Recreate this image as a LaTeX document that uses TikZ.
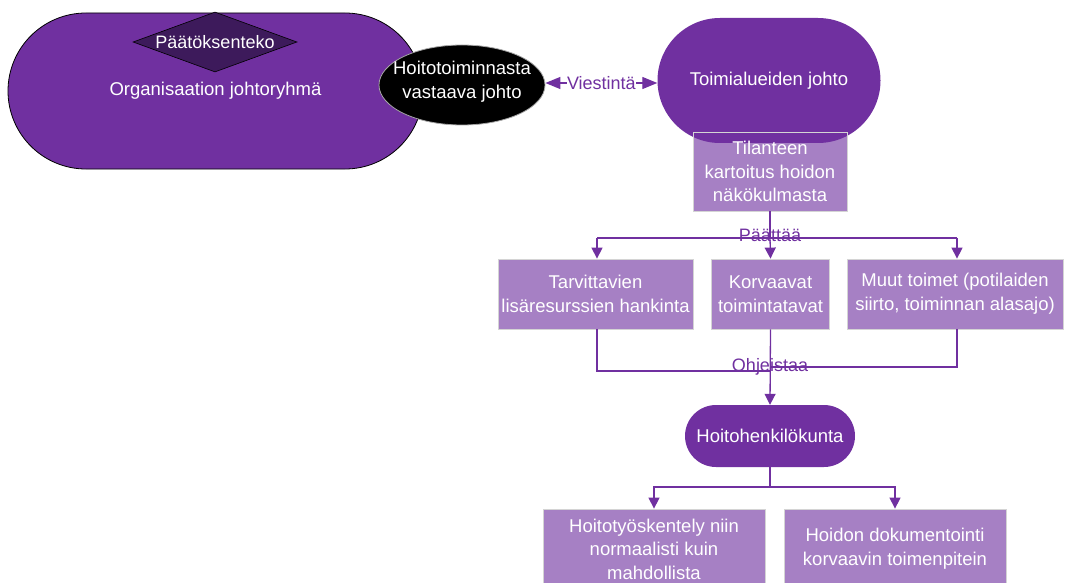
\documentclass[tikz,border=0pt]{standalone}
\usepackage{fontspec}
\setmainfont{Liberation Sans}
\usetikzlibrary{shapes.geometric,shapes.misc,arrows.meta}
\definecolor{ppl}{HTML}{7030A0}
\definecolor{lppl}{HTML}{A680C4}
\definecolor{dppl}{HTML}{3D1A5B}
\definecolor{lgray}{HTML}{D4D4D4}
\pgfdeclarelayer{bg}
\pgfsetlayers{bg,main}
\begin{document}
\begin{tikzpicture}[x=1pt,y=-1pt,
  txt/.style={text=white,font=\fontsize{18.5}{23.6}\selectfont,align=center},
  stadium/.style={rounded rectangle,fill=ppl,txt,inner sep=0pt},
  lbox/.style={rectangle,draw=lgray,line width=0.8pt,txt,inner sep=0pt},
  conn/.style={draw=ppl,line width=1.3pt},
  tip/.style={-{Triangle[width=11pt,length=11pt]}},
  dtip/.style={{Triangle[width=12pt,length=15pt]}-{Triangle[width=12pt,length=15pt]}},
  lbl/.style={text=ppl,font=\fontsize{18}{20}\selectfont,inner sep=1pt}]
\useasboundingbox (0,0) rectangle (1065,583);
\clip (0,0) rectangle (1065,583);

% top left group
\node[stadium,draw=black,line width=0.8pt,minimum width=415pt,minimum height=156pt] (org) at (215.5,91) {Organisaation johtoryhmä};
\node[diamond,draw=black,line width=0.6pt,fill=dppl,inner sep=0pt,
      minimum width=164pt,minimum height=60pt] (paat) at (215,42) {};
\node[txt,font=\fontsize{18}{20}\selectfont] (paatt) at (paat) {Päätöksenteko};
\node[ellipse,draw=gray!70,line width=0.8pt,fill=black,inner sep=0pt,minimum width=166pt,minimum height=80pt] (hvj) at (462,85) {};
\node[txt,font=\fontsize{18.5}{23.5}\selectfont] (hvjt) at (462,81.5) {Hoitotoiminnasta\\vastaava johto};

% right column
\node[stadium,minimum width=223pt,minimum height=125pt] (toim) at (769,80.5) {Toimialueiden johto};
\node[lbox,minimum width=154pt,minimum height=79pt] (til) at (770,171.5) {Tilanteen\\kartoitus hoidon\\näkökulmasta};
\begin{pgfonlayer}{bg}
  \fill[lppl] (til.south west) rectangle (til.north east);
\end{pgfonlayer}

\node[lbox,fill=lppl,minimum width=195pt,minimum height=70pt] (tarv) at (595.5,294) {Tarvittavien\\lisäresurssien hankinta};
\node[lbox,fill=lppl,minimum width=118pt,minimum height=70pt] (korv) at (770.5,294) {Korvaavat\\toimintatavat};
\node[lbox,fill=lppl,minimum width=216pt,minimum height=70pt] (muut) at (955,294) {Muut toimet (potilaiden\\siirto, toiminnan alasajo)};

\node[stadium,minimum width=170pt,minimum height=62pt] (hhk) at (770,436) {Hoitohenkilökunta};

\node[lbox,fill=lppl,minimum width=222pt,minimum height=80pt] (hty) at (654,549) {Hoitotyöskentely niin\\normaalisti kuin\\mahdollista};
\node[lbox,fill=lppl,minimum width=222pt,minimum height=80pt] (hdk) at (895,549) {Hoidon dokumentointi\\korvaavin toimenpitein};

% connectors
\coordinate (ve) at (hvj.east |- 0,83);
\coordinate (vw) at (toim.west |- 0,83);
\draw[conn,dtip] (ve) -- node[lbl,fill=white,inner sep=0.5pt] (viest) {Viestintä} (vw);

\coordinate (b1) at (770,238);
\coordinate (a1) at (597,238);
\coordinate (a3) at (957,238);
\draw[conn] (til.south) -- (b1);
\draw[conn,tip] (a1) -- (a1 |- tarv.north);
\draw[conn,tip] (b1) -- (korv.north);
\draw[conn,tip] (a3) -- (a3 |- muut.north);
\draw[conn] (a1) -- (a3);
\node[lbl] (paattaa) at (770,235) {Päättää};

\coordinate (o1) at (770,371);
\coordinate (o3) at (770,367);
\draw[conn] (tarv.south -| a1) |- (o1);
\draw[conn] (muut.south -| a3) |- (o3);
\draw[conn,tip] (korv.south) -- (hhk.north);
\node[lbl] (ohj) at (770,367) {Ohjeistaa};

\coordinate (h1) at (770,487);
\draw[conn] (hhk.south) -- (h1);
\draw[conn,tip] (h1) -| (hty.north);
\draw[conn,tip] (h1) -| (hdk.north);
\end{tikzpicture}
\end{document}
